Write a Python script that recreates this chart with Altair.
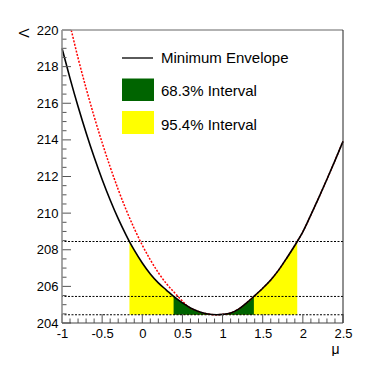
import altair as alt
import pandas as pd
import numpy as np

W, H = 281, 293
FONT = "Liberation Sans"

# Minimum envelope (black)
mu = [-1.0, -0.9, -0.8, -0.7, -0.6, -0.5, -0.4, -0.3, -0.2, -0.16,
      -0.1, 0.0, 0.1, 0.2, 0.3, 0.39, 0.5, 0.6, 0.7, 0.8,
      0.93, 1.0, 1.1, 1.2, 1.3, 1.39, 1.5, 1.6, 1.7, 1.8,
      1.93, 2.0, 2.1, 2.2, 2.3, 2.4, 2.5]
envelope = [219.0, 217.36, 215.82, 214.39, 213.06, 211.84, 210.72, 209.7, 208.79, 208.45,
            207.98, 207.28, 206.68, 206.19, 205.8, 205.45, 205.1, 204.82, 204.63, 204.51,
            204.45, 204.47, 204.55, 204.76, 205.1, 205.45, 205.9, 206.35, 206.9, 207.55,
            208.45, 208.98, 209.9, 210.86, 211.85, 212.87, 213.92]

# Red dotted curve
mu_red = [-0.885, -0.8, -0.7, -0.6, -0.5, -0.4, -0.3, -0.2, -0.1, 0.0,
          0.1, 0.2, 0.3, 0.4, 0.5, 0.55, 0.6, 0.7, 0.8, 0.93,
          1.0, 1.1, 1.2, 1.3, 1.39, 1.5, 1.6, 1.7, 1.8, 1.93,
          2.0, 2.1, 2.2, 2.3, 2.4, 2.5]
red_curve = [220.0, 218.47, 216.82, 215.28, 213.85, 212.52, 211.29, 210.17, 209.16, 208.25,
             207.45, 206.75, 206.15, 205.66, 205.2, 204.97, 204.82, 204.63, 204.51, 204.45,
             204.47, 204.55, 204.76, 205.1, 205.45, 205.9, 206.35, 206.9, 207.55, 208.45,
             208.98, 209.9, 210.86, 211.85, 212.87, 213.92]

levels = [204.45, 205.45, 208.45]
interval_68 = [0.39, 1.39]
interval_95 = [-0.16, 1.93]
legend_labels = ["Minimum Envelope", "68.3% Interval", "95.4% Interval"]

x_labels = [-1, -0.5, 0, 0.5, 1, 1.5, 2, 2.5]
y_labels = [204, 206, 208, 210, 212, 214, 216, 218, 220]
x_minor = [float(v) for v in np.round(np.arange(-1.0, 2.5001, 0.1), 2) if v not in x_labels]
y_minor = [float(v) for v in np.arange(204.0, 220.001, 0.5) if v not in y_labels]

GREEN = "#006400"
YELLOW = "#ffff00"

xs = alt.Scale(domain=[-1, 2.5], nice=False, zero=False)
ys = alt.Scale(domain=[204, 220], nice=False, zero=False)

xa = alt.Axis(
    values=x_labels, labelExpr="toString(datum.value)", ticks=False, tickSize=0,
    domain=False, grid=False, labelFont=FONT, labelFontSize=13, labelColor="black",
    labelFlush=False, labelOverlap=False,
    labelPadding=4, title="μ", titleFont=FONT, titleFontSize=14,
    titleFontWeight="normal", titleColor="black", titleAlign="right",
    titleBaseline="alphabetic", titleX=W - 4, titleY=30)
ya = alt.Axis(
    values=y_labels, labelExpr="toString(datum.value)", ticks=False, tickSize=0,
    domain=False, grid=False, labelFont=FONT, labelFontSize=13, labelColor="black",
    labelFlush=False, labelOverlap=False,
    labelPadding=4, title="Λ", titleFont=FONT, titleFontSize=14,
    titleFontWeight="normal", titleColor="black", titleAngle=270, titleAlign="right",
    titleBaseline="alphabetic", titleX=-34, titleY=-2)

def X(f):
    return alt.X(f, scale=xs, axis=xa)

def Y(f):
    return alt.Y(f, scale=ys, axis=ya)

df = pd.DataFrame({"mu": mu, "val": envelope})
dfr = pd.DataFrame({"mu": mu_red, "val": red_curve})

def band(lo, hi, color):
    return alt.Chart(df).transform_filter(
        (alt.datum.mu >= lo) & (alt.datum.mu <= hi)
    ).mark_area(color=color, interpolate="monotone", opacity=1).encode(
        x=X("mu:Q"), y=Y("val:Q"), y2=alt.datum(levels[0]),
    )

yellow = band(interval_95[0], interval_95[1], YELLOW)
green = band(interval_68[0], interval_68[1], GREEN)

hlines = alt.Chart(pd.DataFrame({"lvl": levels})).mark_rule(
    color="black", strokeWidth=1, strokeDash=[2, 1.5]
).encode(y=Y("lvl:Q"))

red = alt.Chart(dfr).mark_line(
    color="#ff0000", strokeWidth=1.5, strokeDash=[2, 1.5], interpolate="monotone"
).encode(x=X("mu:Q"), y=Y("val:Q"))

black = alt.Chart(df).mark_line(
    color="black", strokeWidth=1.6, interpolate="monotone"
).encode(x=X("mu:Q"), y=Y("val:Q"))

TICK = "#555"
ymaj = alt.Chart(pd.DataFrame({"t": y_labels})).mark_rule(color=TICK).encode(
    y=Y("t:Q"), x=alt.value(0), x2=alt.value(9))
ymin = alt.Chart(pd.DataFrame({"t": y_minor})).mark_rule(color=TICK).encode(
    y=Y("t:Q"), x=alt.value(0), x2=alt.value(4.5))
xmaj = alt.Chart(pd.DataFrame({"t": x_labels})).mark_rule(color=TICK).encode(
    x=X("t:Q"), y=alt.value(H), y2=alt.value(H - 9))
xmin = alt.Chart(pd.DataFrame({"t": x_minor})).mark_rule(color=TICK).encode(
    x=X("t:Q"), y=alt.value(H), y2=alt.value(H - 4.5))

one = pd.DataFrame({"a": [0]})
frame_left = alt.Chart(one).mark_rule(color="#888", strokeWidth=1.5).encode(
    x=alt.value(0), y=alt.value(0), y2=alt.value(H))
frame_top = alt.Chart(one).mark_rule(color="#999", strokeWidth=1.5).encode(
    x=alt.value(0), x2=alt.value(W), y=alt.value(0))
frame_right = alt.Chart(one).mark_rule(color="#222", strokeWidth=1).encode(
    x=alt.value(W), y=alt.value(0), y2=alt.value(H))
frame_bottom = alt.Chart(one).mark_rule(color="#444", strokeWidth=1).encode(
    x=alt.value(0), x2=alt.value(W), y=alt.value(H))

leg_line = alt.Chart(one).mark_rule(color="black", strokeWidth=1.3).encode(
    x=alt.value(60), x2=alt.value(91), y=alt.value(28))
leg_green = alt.Chart(one).mark_rect(color=GREEN).encode(
    x=alt.value(60), x2=alt.value(92), y=alt.value(48.5), y2=alt.value(71))
leg_yellow = alt.Chart(one).mark_rect(color=YELLOW).encode(
    x=alt.value(60), x2=alt.value(92), y=alt.value(81), y2=alt.value(104))

def leg_text(label, ypos):
    return alt.Chart(pd.DataFrame({"label": [label]})).mark_text(
        align="left", baseline="middle", font=FONT, fontSize=15, color="black"
    ).encode(x=alt.value(99), y=alt.value(ypos), text="label:N")

t1 = leg_text(legend_labels[0], 28)
t2 = leg_text(legend_labels[1], 61)
t3 = leg_text(legend_labels[2], 94.5)

chart = alt.layer(
    yellow, green, hlines, red, black,
    ymaj, ymin, xmaj, xmin,
    frame_left, frame_top, frame_right, frame_bottom,
    leg_line, leg_green, leg_yellow, t1, t2, t3,
).properties(
    width=W, height=H,
    autosize=alt.AutoSizeParams(type="none"),
    padding={"left": 54, "top": 22, "right": 28, "bottom": 33},
).configure_view(stroke=None)

chart.save("out.html", embed_options={"renderer": "svg", "actions": False})
